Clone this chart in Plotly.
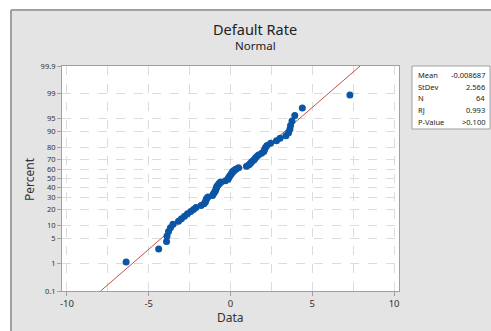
import plotly.graph_objects as go
from statistics import NormalDist

# ---------------- data ----------------
default_rate = [
    -6.38, -4.39, -3.91, -3.88, -3.79, -3.67, -3.52, -3.18, -3.00, -2.81,
    -2.63, -2.43, -2.26, -2.11, -1.80, -1.62, -1.53, -1.50, -1.46, -1.38,
    -1.10, -1.04, -0.98, -0.92, -0.89, -0.86, -0.83, -0.76, -0.70, -0.61,
    -0.31, -0.15, -0.12, -0.06, 0.00, 0.06, 0.12, 0.18, 0.31, 0.49,
    0.98, 1.13, 1.22, 1.31, 1.43, 1.50, 1.59, 1.71, 1.90, 2.04,
    2.08, 2.14, 2.23, 2.45, 2.81, 3.03, 3.39, 3.55, 3.63, 3.67,
    3.76, 3.93, 4.39, 7.30,
]
stat_labels = ["Mean", "StDev", "N", "RJ", "P-Value"]
stat_values = ["-0.008687", "2.566", "64", "0.993", ">0.100"]
fit_mean = -0.008687
fit_sd = 2.566
pct_ticks = [0.1, 1, 5, 10, 20, 30, 40, 50, 60, 70, 80, 90, 95, 99, 99.9]
pct_tick_text = ["0.1", "1", "5", "10", "20", "30", "40", "50", "60", "70", "80", "90", "95", "99", "99.9"]
x_ticks = [-10, -5, 0, 5, 10]
x_tick_text = ["-10", "-5", "0", "5", "10"]
x_minor = [-10, -7.5, -5, -2.5, 0, 2.5, 5, 7.5, 10]

# ---------------- probability scale ----------------
nd = NormalDist()
def probit(p_percent):
    return nd.inv_cdf(p_percent / 100.0)

xs = sorted(default_rate)
n = len(xs)
pcts = [100.0 * (i + 1 - 0.3) / (n + 0.4) for i in range(n)]
zs = [probit(p) for p in pcts]

zlo, zhi = probit(0.1), probit(99.9)
line_z = [zlo, zhi]
line_x = [fit_mean + fit_sd * z for z in line_z]

W, H = 491, 331
ML, MR, MT, MB = 62, 92, 66, 40
PW, PH = W - ML - MR, H - MT - MB

def px(x):
    return (x - ML) / PW

def py(y):
    return (H - MB - y) / PH

FONT = "Noto Sans"
TXT = "#222222"

fig = go.Figure()
fig.add_trace(go.Scatter(
    x=line_x, y=line_z, mode="lines",
    line=dict(color="#c0504d", width=1), hoverinfo="skip", showlegend=False))
fig.add_trace(go.Scatter(
    x=xs, y=zs, mode="markers",
    marker=dict(color="#0a55a5", size=7, line=dict(width=0)),
    customdata=pcts, hovertemplate="%{x}<br>%{customdata:.1f}%<extra></extra>",
    showlegend=False))

shapes = [
    # white outside strips
    dict(type="rect", xref="paper", yref="paper", x0=px(-5), x1=px(W + 5), y0=py(10), y1=py(-5),
         fillcolor="white", line=dict(width=0), layer="below"),
    dict(type="rect", xref="paper", yref="paper", x0=px(-5), x1=px(10), y0=py(H + 5), y1=py(-5),
         fillcolor="white", line=dict(width=0), layer="below"),
    # frame border
    dict(type="line", xref="paper", yref="paper", x0=px(11), x1=px(W + 5), y0=py(10), y1=py(10),
         line=dict(color="#a0a0a0", width=2)),
    dict(type="line", xref="paper", yref="paper", x0=px(11), x1=px(11), y0=py(10), y1=py(H + 5),
         line=dict(color="#a0a0a0", width=2)),
    # stats box
    dict(type="rect", xref="paper", yref="paper", x0=px(412), x1=px(490), y0=py(129), y1=py(66),
         fillcolor="white", line=dict(color="#a0a0a0", width=1)),
]

annotations = [
    dict(text="Default Rate", x=px(255), y=py(29), xref="paper", yref="paper", showarrow=False,
         font=dict(family=FONT, size=14.5, color=TXT), xanchor="center", yanchor="middle"),
    dict(text="Normal", x=px(255), y=py(45), xref="paper", yref="paper", showarrow=False,
         font=dict(family=FONT, size=11.5, color=TXT), xanchor="center", yanchor="middle"),
    dict(text="Percent", x=px(29), y=py(179), xref="paper", yref="paper", showarrow=False,
         textangle=-90, font=dict(family=FONT, size=12, color="#333333"), xanchor="center", yanchor="middle"),
    dict(text="Data", x=px(230), y=py(317), xref="paper", yref="paper", showarrow=False,
         font=dict(family=FONT, size=12, color="#333333"), xanchor="center", yanchor="middle"),
]
row_y = [75, 86.7, 98.4, 110.2, 122]
for lab, val, ry in zip(stat_labels, stat_values, row_y):
    annotations.append(dict(text=lab, x=px(416), y=py(ry), xref="paper", yref="paper", showarrow=False,
                            font=dict(family=FONT, size=7.5, color=TXT), xanchor="left", yanchor="middle"))
    annotations.append(dict(text=val, x=px(487), y=py(ry), xref="paper", yref="paper", showarrow=False,
                            font=dict(family=FONT, size=7.5, color=TXT), xanchor="right", yanchor="middle"))

fig.update_layout(
    width=W, height=H,
    margin=dict(l=ML, r=MR, t=MT, b=MB, pad=0),
    paper_bgcolor="#e4e4e4",
    plot_bgcolor="white",
    shapes=shapes,
    annotations=annotations,
    showlegend=False,
)
fig.update_xaxes(
    range=[-10.3, 10.3], tickmode="array", tickvals=x_ticks, ticktext=x_tick_text,
    showgrid=False, zeroline=False,
    showline=True, linecolor="#a0a0a0", linewidth=1, mirror=True,
    ticks="outside", ticklen=4, tickcolor="#a0a0a0",
    tickfont=dict(family=FONT, size=9.5, color="#333333"),
    minor=dict(tickmode="array", tickvals=x_minor, showgrid=True, gridcolor="#dcdcdc",
               griddash="dash", gridwidth=1, ticks=""),
)
fig.update_yaxes(
    range=[zlo, zhi], tickmode="array", tickvals=[probit(p) for p in pct_ticks], ticktext=pct_tick_text,
    showgrid=True, gridcolor="#dcdcdc", griddash="dash", gridwidth=1, zeroline=False,
    showline=True, linecolor="#a0a0a0", linewidth=1, mirror=True,
    ticks="outside", ticklen=4, tickcolor="#a0a0a0",
    tickfont=dict(family=FONT, size=7.5, color="#333333"),
)

fig.write_html("out.html", config={"displayModeBar": False},
               post_script="document.body.style.margin='0';")
